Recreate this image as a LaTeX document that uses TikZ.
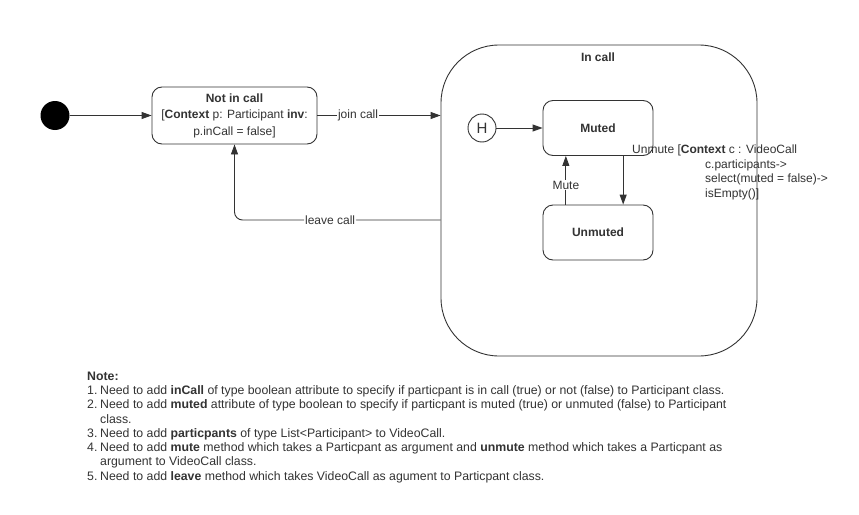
\documentclass[tikz,border=0pt]{standalone}
\usepackage{fontspec}
\setmainfont{Liberation Sans}
\usetikzlibrary{arrows.meta,calc}
\definecolor{ink}{HTML}{333333}
\tikzset{
  arr/.style={draw=ink, line width=0.9pt, -{Triangle[length=10pt,width=7pt]}},
  state/.style={draw=ink, line width=0.9pt, rounded corners=10pt, align=center, inner sep=0pt},
  lbl/.style={text=ink, font=\fontsize{12}{14.7}\selectfont, inner sep=1pt},
  wlbl/.style={lbl, fill=white},
  notes/.style={text=ink, font=\fontsize{12.3}{14.3}\selectfont, align=left, inner sep=0pt, anchor=north west},
}
\newcommand{\itm}[1]{\makebox[13pt][l]{#1}}
\begin{document}
\begin{tikzpicture}[x=1pt,y=-1pt]
\useasboundingbox[fill=white] (0,0) rectangle (859,514);

% initial state
\node[circle, fill=black, minimum size=29pt, inner sep=0pt] (init) at (55,115.5) {};

% Not in call
\node[state, minimum width=165pt, minimum height=57pt, text=ink, font=\fontsize{12}{16.5}\selectfont] (notin) at (234.5,115.5)
  {\textbf{Not in call}\\ {[}\textbf{Context} p: Participant \textbf{inv}:\\ p.inCall = false{]}};

% In call composite
\node[draw=ink, line width=0.9pt, rounded corners=58pt, minimum width=316pt, minimum height=311pt, inner sep=0pt] (incall) at (599,200.5) {};
\node[lbl, font=\bfseries\fontsize{12}{14}\selectfont] (incallname) at (598,57) {In call};

% History
\node[circle, draw=ink, line width=0.9pt, minimum size=28pt, inner sep=0pt, text=ink, font=\fontsize{15}{15}\selectfont] (hist) at (482,128) {H};

% Muted / Unmuted
\node[state, minimum width=110pt, minimum height=55pt, text=ink, font=\bfseries\fontsize{12}{14}\selectfont] (muted) at (598,128) {Muted};
\node[state, minimum width=110pt, minimum height=55pt, text=ink, font=\bfseries\fontsize{12}{14}\selectfont] (unmuted) at (598,232.5) {Unmuted};

% transitions
\draw[arr] (init.east) -- (init.east -| notin.west);
\draw[arr] (notin.east) -- node[wlbl, pos=0.33] {join call} (notin.east -| incall.west);
\draw[arr] (hist.east) -- (hist.east -| muted.west);
\draw[arr] ($(muted.south west)!0.727!(muted.south east)$) -- ($(unmuted.north west)!0.727!(unmuted.north east)$);
\draw[arr] ($(unmuted.north west)!0.21!(unmuted.north east)$) -- node[wlbl, pos=0.4] {Mute} ($(muted.south west)!0.21!(muted.south east)$);
\draw[arr, rounded corners=8pt] ([yshift=-19.5pt]incall.west) -| node[wlbl, pos=0.268] {leave call} (notin.south);

% Unmute guard label
\node[lbl, anchor=north west, align=left, inner sep=0pt] (unmutelbl) at (632,144.5)
  {Unmute {[}\textbf{Context} c : VideoCall\\
   \hspace*{73pt}c.participants->\\
   \hspace*{73pt}select(muted = false)->\\
   \hspace*{73pt}isEmpty(){]}};

% Notes
\node[notes] (notetext) at (87,371.5) {%
\textbf{Note:}\\
\itm{1.}Need to add \textbf{inCall} of type boolean attribute to specify if particpant is in call (true) or not (false) to Participant class.\\
\itm{2.}Need to add \textbf{muted} attribute of type boolean to specify if particpant is muted (true) or unmuted (false) to Participant\\
\itm{}class.\\
\itm{3.}Need to add \textbf{particpants} of type List<Participant> to VideoCall.\\
\itm{4.}Need to add \textbf{mute} method which takes a Particpant as argument and \textbf{unmute} method which takes a Particpant as\\
\itm{}argument to VideoCall class.\\
\itm{5.}Need to add \textbf{leave} method which takes VideoCall as agument to Particpant class.};
\end{tikzpicture}
\end{document}
